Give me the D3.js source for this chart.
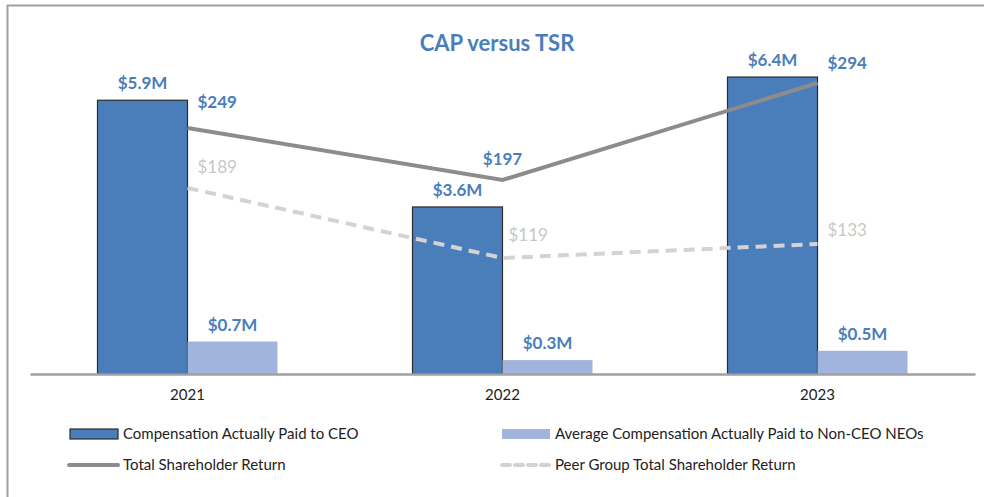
<!DOCTYPE html>
<html><head><meta charset="utf-8">
<script src="https://cdn.jsdelivr.net/npm/d3@7"></script>
<style>body{margin:0;background:#fff}svg{display:block;font-family:Lato,"Open Sans",sans-serif}</style>
</head><body><div id="chart"></div>
<script>
const years = ["2021","2022","2023"];
const ceoCAP = [5.9, 3.6, 6.4];
const neoCAP = [0.7, 0.3, 0.5];
const tsr = [249, 197, 294];
const peerTSR = [189, 119, 133];
const seriesNames = ["Compensation Actually Paid to CEO","Average Compensation Actually Paid to Non-CEO NEOs","Total Shareholder Return","Peer Group Total Shareholder Return"];
const title = "CAP versus TSR";

const W = 984, H = 497;
const svg = d3.select("#chart").append("svg").attr("width", W).attr("height", H);
const blue = "#4a7ebb", lightBlue = "#a1b4dc", gray = "#8c8c8c", lightGray = "#d3d3d3";

// frame
svg.append("path").attr("d", `M7.5,${H} V5.5 H${W}`).attr("fill","none").attr("stroke","#a0a0a0").attr("stroke-width",2);

const x0 = d3.scaleBand().domain(years).range([30, 975]);
const x1 = d3.scaleBand().domain(["ceo","neo"]).range([x0.bandwidth()/2 - 90, x0.bandwidth()/2 + 90]);
const base = 374;
const y = d3.scaleLinear().domain([0, 7]).range([base, base - 7*46.4]);
const y2 = d3.scaleLinear().domain([0, 350]).range([base + 3, base + 3 - 350]);

svg.append("text").attr("x", 497).attr("y", 51).attr("text-anchor","middle")
  .attr("font-size", 22).attr("font-weight", 700).attr("fill", blue).text(title);

const g = svg.append("g");
years.forEach((yr, i) => {
  const gx = x0(yr);
  const bars = [{k:"ceo", v:ceoCAP[i], c:blue}, {k:"neo", v:neoCAP[i], c:lightBlue}];
  bars.forEach(b => {
    const r = g.append("rect").attr("x", gx + x1(b.k)).attr("y", y(b.v))
      .attr("width", x1.bandwidth()).attr("height", base - y(b.v)).attr("fill", b.c);
    if (b.k === "ceo") r.attr("stroke", "#2b2b2b").attr("stroke-width", 1.2);
    g.append("text").attr("x", gx + x1(b.k) + x1.bandwidth()/2).attr("y", y(b.v) - 11)
      .attr("text-anchor","middle").attr("font-size", 17).attr("font-weight", 700)
      .attr("fill", blue).text("$" + b.v.toFixed(1) + "M");
  });
});

// axis
const axis = svg.append("g").attr("transform", `translate(0,${base})`)
  .call(d3.axisBottom(x0).tickSize(0).tickPadding(15));
axis.select(".domain").attr("stroke", "#a0a0a0").attr("stroke-width", 2.5);
axis.selectAll("text").attr("font-size", 15).attr("fill", "#222").attr("font-family", "Lato,sans-serif");

const cx = yr => x0(yr) + x0.bandwidth()/2;
const line = d3.line().x((d,i) => cx(years[i])).y(d => y2(d));
svg.append("path").attr("d", line(peerTSR)).attr("fill","none").attr("stroke", lightGray)
  .attr("stroke-width", 4).attr("stroke-dasharray", "11,7");
svg.append("path").attr("d", line(tsr)).attr("fill","none").attr("stroke", gray).attr("stroke-width", 4);

const tsrDy = [20, 15, 14], peerDy = [15, 17, 8];
tsr.forEach((v, i) => {
  const mid = i === 1;
  svg.append("text").attr("x", cx(years[i]) + (mid ? 0 : 10)).attr("y", y2(v) - tsrDy[i])
    .attr("text-anchor", mid ? "middle" : "start").attr("font-size", 17).attr("font-weight", 700)
    .attr("fill", blue).text("$" + v);
});
peerTSR.forEach((v, i) => {
  svg.append("text").attr("x", cx(years[i]) + (i === 1 ? 6 : 10)).attr("y", y2(v) - peerDy[i])
    .attr("text-anchor", "start").attr("font-size", 17).attr("font-weight", 400)
    .attr("fill", "#c8c8c8").text("$" + v);
});

// legend
const leg = svg.append("g").attr("font-size", 15).attr("fill", "#222");
const lx = [70, 502], ly = [434, 465];
leg.append("rect").attr("x", lx[0]).attr("y", ly[0]-5).attr("width", 48).attr("height", 10)
  .attr("fill", blue).attr("stroke", "#2b2b2b").attr("stroke-width", 1.2);
leg.append("rect").attr("x", lx[1]).attr("y", ly[0]-5).attr("width", 48).attr("height", 10).attr("fill", lightBlue);
leg.append("line").attr("x1", lx[0]-1).attr("x2", lx[0]+48).attr("y1", ly[1]).attr("y2", ly[1])
  .attr("stroke", gray).attr("stroke-width", 4).attr("stroke-linecap","round");
leg.append("line").attr("x1", lx[1]).attr("x2", lx[1]+48).attr("y1", ly[1]).attr("y2", ly[1])
  .attr("stroke", lightGray).attr("stroke-width", 4).attr("stroke-dasharray", "8,5").attr("stroke-linecap","round");
[[lx[0],ly[0]],[lx[1],ly[0]],[lx[0],ly[1]],[lx[1],ly[1]]].forEach((p, i) => {
  leg.append("text").attr("x", p[0] + 53).attr("y", p[1] + 5).attr("fill", "#222").text(seriesNames[i]);
});
</script></body></html>
